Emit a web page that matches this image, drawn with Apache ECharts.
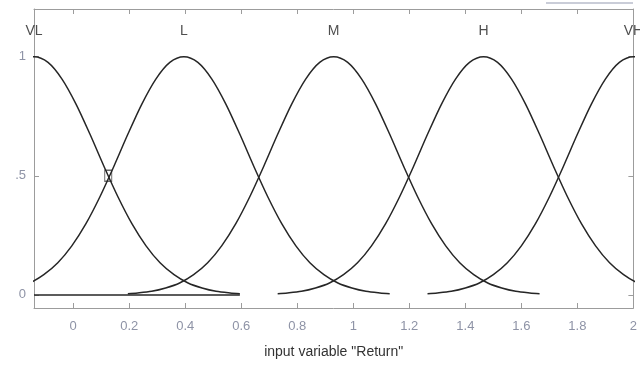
<!DOCTYPE html>
<html>
<head>
<meta charset="utf-8">
<script src="https://cdn.jsdelivr.net/npm/echarts@6/dist/echarts.min.js"></script>
<style>
  html, body { margin: 0; padding: 0; background: #fff; }
  #chart { width: 640px; height: 369px; }
</style>
</head>
<body>
<div id="chart"></div>
<script>
// membership function names and where each one peaks
const mfNames = ['VL', 'L', 'M', 'H', 'VH'];
const mfCenters = [-0.14, 0.395, 0.93, 1.465, 2.0];
const labelHeight = 1.105;

// degree of membership (all five have the same bell)
const mfDegree = [0.005, 0.008, 0.015, 0.029, 0.05, 0.085, 0.135, 0.206, 0.298, 0.411, 0.539, 0.674, 0.801, 0.906, 0.976, 1,
  0.976, 0.906, 0.801, 0.674, 0.539, 0.411, 0.298, 0.206, 0.135, 0.085, 0.05, 0.029, 0.015, 0.008, 0.005];

// x positions of the points on each curve
const vlX = [-0.875, -0.84, -0.79, -0.74, -0.69, -0.64, -0.59, -0.54, -0.49, -0.44, -0.39, -0.34, -0.29, -0.24, -0.19, -0.14,
  -0.09, -0.04, 0.01, 0.06, 0.11, 0.16, 0.21, 0.26, 0.31, 0.36, 0.41, 0.46, 0.51, 0.56, 0.595];
const lX = [-0.34, -0.305, -0.255, -0.205, -0.155, -0.105, -0.055, -0.005, 0.045, 0.095, 0.145, 0.195, 0.245, 0.295, 0.345, 0.395,
  0.445, 0.495, 0.545, 0.595, 0.645, 0.695, 0.745, 0.795, 0.845, 0.895, 0.945, 0.995, 1.045, 1.095, 1.13];
const mX = [0.195, 0.23, 0.28, 0.33, 0.38, 0.43, 0.48, 0.53, 0.58, 0.63, 0.68, 0.73, 0.78, 0.83, 0.88, 0.93,
  0.98, 1.03, 1.08, 1.13, 1.18, 1.23, 1.28, 1.33, 1.38, 1.43, 1.48, 1.53, 1.58, 1.63, 1.665];
const hX = [0.73, 0.765, 0.815, 0.865, 0.915, 0.965, 1.015, 1.065, 1.115, 1.165, 1.215, 1.265, 1.315, 1.365, 1.415, 1.465,
  1.515, 1.565, 1.615, 1.665, 1.715, 1.765, 1.815, 1.865, 1.915, 1.965, 2.015, 2.065, 2.115, 2.165, 2.2];
const vhX = [1.265, 1.3, 1.35, 1.4, 1.45, 1.5, 1.55, 1.6, 1.65, 1.7, 1.75, 1.8, 1.85, 1.9, 1.95, 2.0,
  2.05, 2.1, 2.15, 2.2, 2.25, 2.3, 2.35, 2.4, 2.45, 2.5, 2.55, 2.6, 2.65, 2.7, 2.735];

// flat zero segment under the VL curve
const baseX = [-0.14, 0.595];
const baseY = [0, 0];

// small box drawn where VL and L cross
const crossMark = [0.125, 0.5];

// ticks
const xTicks = [0, 0.2, 0.4, 0.6, 0.8, 1, 1.2, 1.4, 1.6, 1.8, 2];
const xTickLabels = ['0', '0.2', '0.4', '0.6', '0.8', '1', '1.2', '1.4', '1.6', '1.8', '2'];
const yTicks = [0, 0.5, 1];
const yTickLabels = ['0', '.5', '1'];

const lookup = (ticks, labels) => (v) => {
  const i = ticks.findIndex((t) => Math.abs(t - v) < 1e-6);
  return i < 0 ? '' : labels[i];
};

const curveXs = [vlX, lX, mX, hX, vhX];
const lineColor = '#262626';
const axisGray = '#9c9c9c';
const labelGray = '#8e93a6';

const chart = echarts.init(document.getElementById('chart'), null, { renderer: 'canvas' });

const axisLine = { show: true, onZero: false, lineStyle: { color: axisGray, width: 1 } };

chart.setOption({
  animation: false,
  backgroundColor: '#fff',
  textStyle: { fontFamily: 'Liberation Sans, Arial, sans-serif' },
  grid: { left: 34, right: 5, top: 9, bottom: 61 },
  xAxis: [
    {
      type: 'value',
      min: -0.14,
      max: 2,
      position: 'bottom',
      axisLine: axisLine,
      axisTick: { inside: true, length: 5, customValues: xTicks, lineStyle: { color: axisGray } },
      axisLabel: {
        customValues: xTicks,
        formatter: lookup(xTicks, xTickLabels),
        color: labelGray,
        fontSize: 13,
        margin: 12,
      },
      splitLine: { show: false },
      name: 'input variable "Return"',
      nameLocation: 'middle',
      nameGap: 37,
      nameTextStyle: { color: '#333', fontSize: 14 },
    },
    {
      type: 'value',
      min: -0.14,
      max: 2,
      position: 'top',
      axisLine: axisLine,
      axisTick: { inside: true, length: 5, customValues: xTicks, lineStyle: { color: axisGray } },
      axisLabel: { show: false },
      splitLine: { show: false },
    },
  ],
  yAxis: [
    {
      type: 'value',
      min: -0.055,
      max: 1.2,
      position: 'left',
      axisLine: axisLine,
      axisTick: { inside: true, length: 5, customValues: yTicks, lineStyle: { color: axisGray } },
      axisLabel: {
        customValues: yTicks,
        formatter: lookup(yTicks, yTickLabels),
        color: labelGray,
        fontSize: 13,
        margin: 8,
      },
      splitLine: { show: false },
    },
    {
      type: 'value',
      min: -0.055,
      max: 1.2,
      position: 'right',
      axisLine: axisLine,
      axisTick: { inside: true, length: 5, customValues: yTicks, lineStyle: { color: axisGray } },
      axisLabel: { show: false },
      splitLine: { show: false },
    },
  ],
  series: [
    ...curveXs.map((xs, k) => ({
      name: mfNames[k],
      type: 'line',
      smooth: 0.3,
      showSymbol: false,
      clip: true,
      lineStyle: { color: lineColor, width: 1.5 },
      data: xs.map((x, i) => [x, mfDegree[i]]),
    })),
    {
      name: 'base',
      type: 'line',
      showSymbol: false,
      lineStyle: { color: lineColor, width: 1.5 },
      data: baseX.map((x, i) => [x, baseY[i]]),
    },
    {
      name: 'cross',
      type: 'scatter',
      symbol: 'rect',
      symbolSize: [7, 11],
      itemStyle: { color: '#fff', borderColor: '#444', borderWidth: 1.2 },
      data: [crossMark],
    },
    {
      // MF names written above the peaks
      name: 'names',
      type: 'scatter',
      symbolSize: 0,
      clip: false,
      label: {
        show: true,
        position: 'inside',
        formatter: (p) => p.name,
        color: '#222',
        fontSize: 14,
      },
      data: mfNames.map((n, i) => ({ name: n, value: [mfCenters[i], labelHeight] })),
    },
  ],
  graphic: [
    {
      type: 'line',
      shape: { x1: 546, y1: 3, x2: 633, y2: 3 },
      style: { stroke: '#b8bccb', lineWidth: 1.5 },
    },
  ],
});
</script>
</body>
</html>
